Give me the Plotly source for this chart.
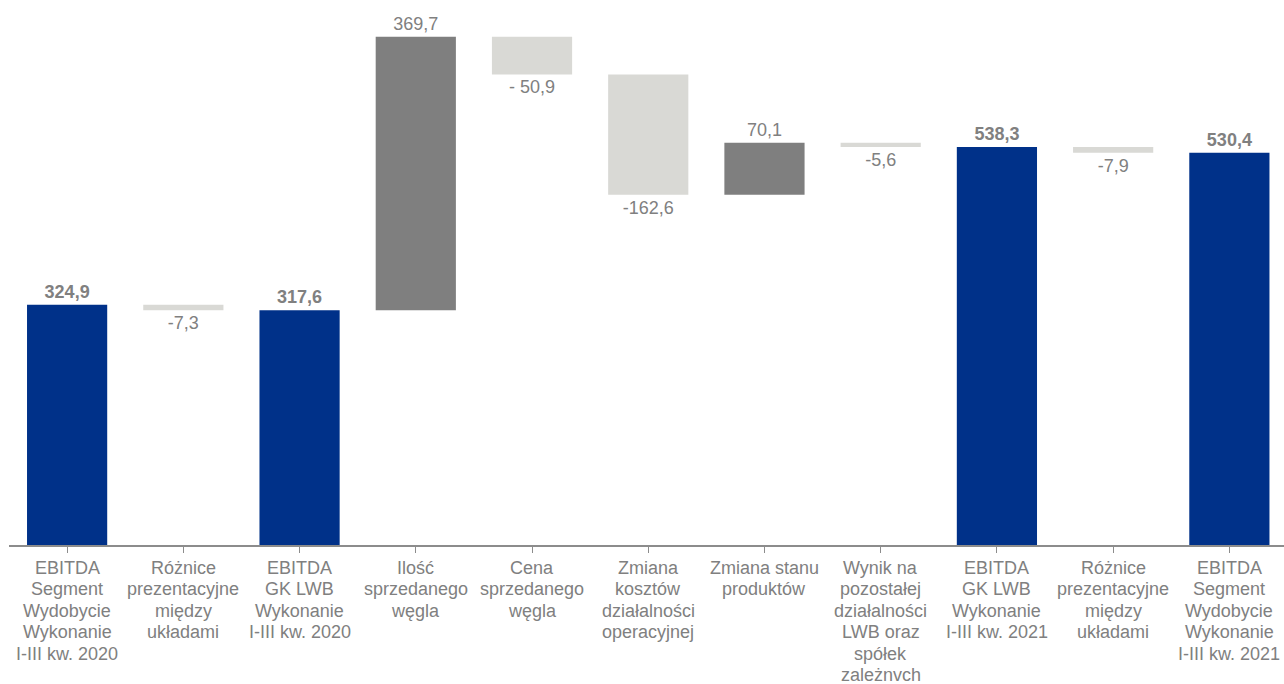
import plotly.graph_objects as go

# Waterfall: EBITDA bridge, I-III kw. 2020 -> I-III kw. 2021 (mln zł)
categories = [
    "EBITDA<br>Segment<br>Wydobycie<br>Wykonanie<br>I-III kw. 2020",
    "Różnice<br>prezentacyjne<br>między<br>układami",
    "EBITDA<br>GK LWB<br>Wykonanie<br>I-III kw. 2020",
    "Ilość<br>sprzedanego<br>węgla",
    "Cena<br>sprzedanego<br>węgla",
    "Zmiana<br>kosztów<br>działalności<br>operacyjnej",
    "Zmiana stanu<br>produktów",
    "Wynik na<br>pozostałej<br>działalności<br>LWB oraz<br>spółek<br>zależnvch",
    "EBITDA<br>GK LWB<br>Wykonanie<br>I-III kw. 2021",
    "Różnice<br>prezentacyjne<br>między<br>układami",
    "EBITDA<br>Segment<br>Wydobycie<br>Wykonanie<br>I-III kw. 2021",
]
values = [324.9, -7.3, 317.6, 369.7, -50.9, -162.6, 70.1, -5.6, 538.3, -7.9, 530.4]
measures = ["absolute", "relative", "total", "relative", "relative", "relative",
            "relative", "relative", "total", "relative", "total"]
labels = ["324,9", "-7,3", "317,6", "369,7", "- 50,9", "-162,6",
          "70,1", "-5,6", "538,3", "-7,9", "530,4"]

BLUE = "#003189"
DARK = "#7f7f7f"
LIGHT = "#d9d9d5"
TEXT = "#808080"
AXIS = "#8c8c8c"
FONT = "Liberation Sans, Arial, sans-serif"
FS = 18
LINE_STEP = 21.4   # tighter line spacing for the category captions

texts = [f"<b>{t}</b>" if m in ("absolute", "total") else t
         for t, m in zip(labels, measures)]
xs = list(range(len(categories)))

fig = go.Figure(go.Waterfall(
    x=xs,
    y=values,
    measure=measures,
    text=texts,
    textposition="outside",
    textfont=dict(family=FONT, size=FS, color=TEXT),
    constraintext="none",
    increasing=dict(marker=dict(color=DARK)),
    decreasing=dict(marker=dict(color=LIGHT)),
    totals=dict(marker=dict(color=BLUE)),
    connector=dict(visible=False),
    width=0.69,
    cliponaxis=False,
    hoverinfo="skip",
))

# category captions, one annotation per line
annotations = []
for x, cat in zip(xs, categories):
    for i, line in enumerate(cat.split("<br>")):
        annotations.append(dict(
            x=x, xref="x", y=0, yref="paper",
            text=line, showarrow=False,
            xanchor="center", yanchor="middle",
            yshift=-(23 + LINE_STEP * i),
            borderpad=0,
            font=dict(family=FONT, size=FS, color=TEXT),
        ))

fig.update_layout(
    width=1284, height=684,
    margin=dict(l=9, r=0, t=0, b=139),
    plot_bgcolor="white", paper_bgcolor="white",
    showlegend=False,
    font=dict(family=FONT, size=FS, color=TEXT),
    annotations=annotations,
    xaxis=dict(
        tickmode="array",
        tickvals=xs,
        showticklabels=False,
        tickson="boundaries",
        range=[-0.5, 10.47],
        showline=True, linecolor=AXIS, linewidth=2,
        ticks="outside", ticklen=6, tickcolor=AXIS, tickwidth=1,
        showgrid=False, zeroline=False,
    ),
    yaxis=dict(range=[0, 737], visible=False, showgrid=False, zeroline=False),
)

fig.write_html("out.html")
